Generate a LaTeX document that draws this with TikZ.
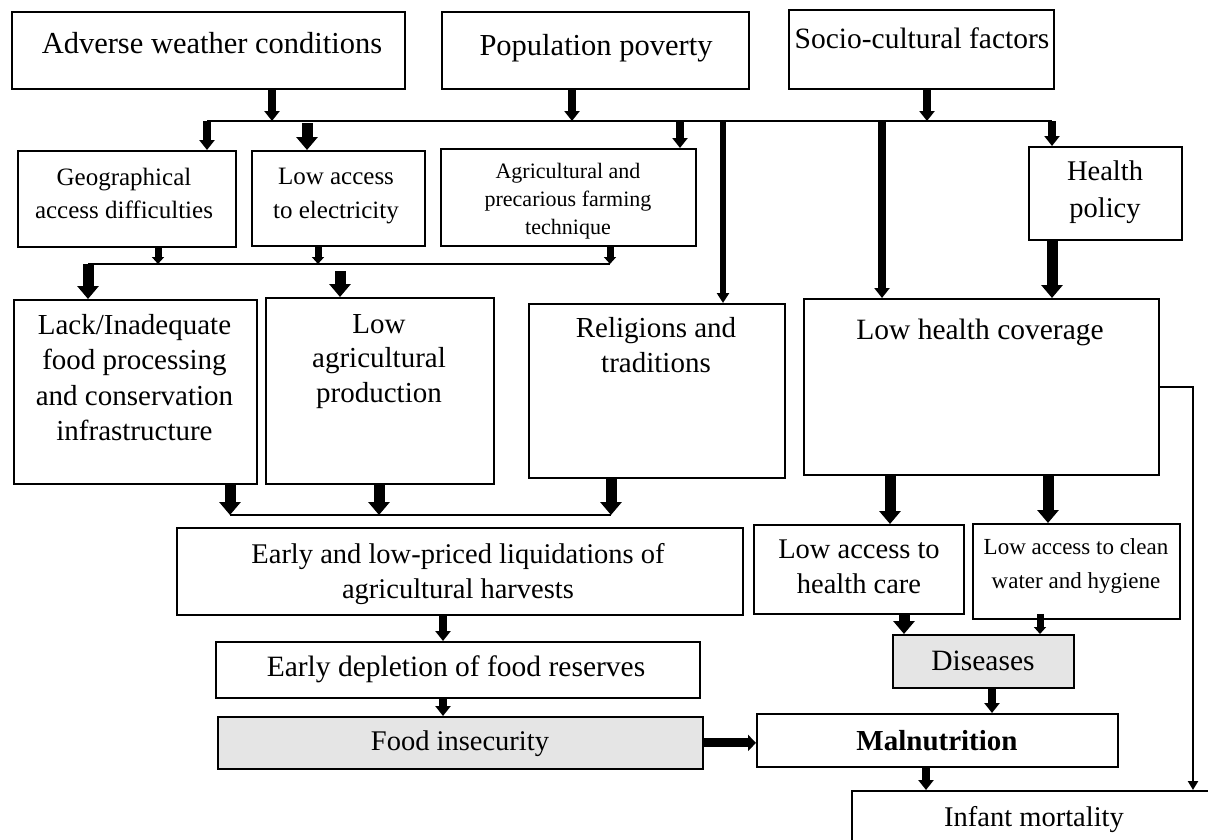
\documentclass[tikz,border=0pt]{standalone}
\usepackage{fontspec}
\setmainfont{Liberation Serif}
\usetikzlibrary{arrows.meta}
\definecolor{boxgray}{RGB}{229,229,229}
\newcommand\fsz[2]{\fontsize{#1}{#2}\selectfont}
\begin{document}
\begin{tikzpicture}[x=1pt,y=-1pt,
  bx/.style={draw,line width=1.8pt,inner sep=0pt,anchor=north west,fill=white},
  gbx/.style={bx,fill=boxgray},
  tx/.style={anchor=base,inner sep=0pt,align=center},
  thinline/.style={line width=2.5pt},
  thinarrow/.style={line width=2.5pt,-{Triangle[width=10pt,length=9pt]}},
  fatA/.style={line width=8pt,-{Triangle[width=15pt,length=10pt]}},
  fatB/.style={line width=11pt,-{Triangle[width=21pt,length=13pt]}},
  fatS/.style={line width=7pt,-{Triangle[width=12pt,length=7pt]}},
  medA/.style={line width=6pt,-{Triangle[width=12pt,length=10pt]}},
  fatH/.style={line width=9pt,-{Triangle[width=16pt,length=8pt]}}
]
\useasboundingbox (0,0) rectangle (1208,839);
\clip (0,0) rectangle (1208,839);

% ---------- boxes ----------
\node[bx,minimum width=393pt,minimum height=77pt] (adv) at (11,11) {};
\node[bx,minimum width=307pt,minimum height=77pt] (pop) at (441,11) {};
\node[bx,minimum width=265pt,minimum height=79pt] (soc) at (788,9) {};

\node[bx,minimum width=218pt,minimum height=96pt] (geo) at (17,150) {};
\node[bx,minimum width=173pt,minimum height=95pt] (elec) at (251,150) {};
\node[bx,minimum width=255pt,minimum height=97pt] (agri) at (440,148) {};
\node[bx,minimum width=153pt,minimum height=93pt] (hpol) at (1028,146) {};

\node[bx,minimum width=243pt,minimum height=184pt] (lack) at (13,299) {};
\node[bx,minimum width=228pt,minimum height=186pt] (lagr) at (265,297) {};
\node[bx,minimum width=256pt,minimum height=174pt] (rel) at (528,303) {};
\node[bx,minimum width=355pt,minimum height=176pt] (lhc) at (803,298) {};

\node[bx,minimum width=566pt,minimum height=87pt] (early) at (176,527) {};
\node[bx,minimum width=210pt,minimum height=89pt] (lahc) at (753,524) {};
\node[bx,minimum width=207pt,minimum height=95pt] (lacw) at (972,523) {};

\node[bx,minimum width=484pt,minimum height=56pt] (depl) at (215,641) {};
\node[gbx,minimum width=485pt,minimum height=52pt] (finsec) at (217,716) {};
\node[gbx,minimum width=181pt,minimum height=53pt] (dis) at (892,634) {};
\node[bx,minimum width=361pt,minimum height=53pt] (mal) at (756,713) {};
\node[bx,minimum width=380pt,minimum height=90pt] (inf) at (851,790) {};

% ---------- texts (anchor = baseline of the last line) ----------
\node[tx,font=\fsz{30.5}{36}] (adv-t) at (212,53) {Adverse weather conditions};
\node[tx,font=\fsz{30.5}{36}] (pop-t) at (596,55) {Population poverty};
\node[tx,font=\fsz{29.5}{36}] (soc-t) at (922,48) {Socio-cultural factors};

\node[tx,font=\fsz{25}{33}] (geo-t) at (124,218) {Geographical\\access difficulties};
\node[tx,font=\fsz{25}{34}] (elec-t) at (336,218) {Low access\\to electricity};
\node[tx,font=\fsz{22}{28}] (agri-t) at (568,234) {Agricultural and\\precarious farming\\technique};
\node[tx,font=\fsz{28.5}{37}] (hpol-t) at (1105,217) {Health\\policy};

\node[tx,font=\fsz{29}{35.5}] (lack-t) at (134.5,440.5) {Lack/Inadequate\\food processing\\and conservation\\infrastructure};
\node[tx,font=\fsz{29}{34.5}] (lagr-t) at (379,402) {Low\\agricultural\\production};
\node[tx,font=\fsz{29}{35}] (rel-t) at (656,372) {Religions and\\traditions};
\node[tx,font=\fsz{29.5}{35}] (lhc-t) at (980,339) {Low health coverage};

\node[tx,font=\fsz{28.5}{35}] (early-t) at (458,598) {Early and low-priced liquidations of\\agricultural harvests};
\node[tx,font=\fsz{28.5}{35}] (lahc-t) at (859,593) {Low access to\\health care};
\node[tx,font=\fsz{23}{34}] (lacw-t) at (1076,588) {Low access to clean\\water and hygiene};

\node[tx,font=\fsz{29.5}{35}] (depl-t) at (456,676) {Early depletion of food reserves};
\node[tx,font=\fsz{28.5}{35}] (finsec-t) at (460,750) {Food insecurity};
\node[tx,font=\fsz{29.5}{35}] (dis-t) at (983,670) {Diseases};
\node[tx,font=\fsz{29}{35}\bfseries] (mal-t) at (937,750) {Malnutrition};
\node[tx,font=\fsz{28.5}{35}] (inf-t) at (1034,826) {Infant mortality};

% ---------- junction coordinates ----------
\coordinate (b1w) at (207,121);
\coordinate (b1e) at (1052,121);
\coordinate (ja) at (272,121);
\coordinate (jp) at (572,121);
\coordinate (js) at (927,121);
\coordinate (j2) at (307,123);
\coordinate (j3) at (680,121);
\coordinate (j4) at (723,121);
\coordinate (j5) at (882,121);

\coordinate (b2w) at (88,264);
\coordinate (b2e) at (610,264);
\coordinate (k1) at (158,264);
\coordinate (k2) at (318,264);
\coordinate (k3) at (340,271);

\coordinate (b3w) at (230,515);
\coordinate (b3e) at (611,515);
\coordinate (k4) at (379,515);

\coordinate (xe) at (443,0);
\coordinate (xh1) at (890,0);
\coordinate (xh2) at (1048,0);
\coordinate (xd1) at (904,0);
\coordinate (xd2) at (1040,0);
\coordinate (xm) at (992,0);
\coordinate (xi) at (926,0);
\coordinate (r1) at (1193,387);

% ---------- top bus ----------
\draw[thinline] (b1w) -- (b1e);
\draw[fatA] (adv.south -| ja) -- (ja);
\draw[fatA] (pop.south -| jp) -- (jp);
\draw[fatA] (soc.south -| js) -- (js);
\draw[fatA] (b1w) -- (geo.north -| b1w);
\draw[fatB] (j2) -- (elec.north -| j2);
\draw[fatA] (j3) -- (agri.north -| j3);
\draw[medA] (j4) -- (rel.north -| j4);
\draw[fatA] (j5) -- (lhc.north -| j5);
\draw[fatA] (b1e) -- (hpol.north -| b1e);
\draw[fatB] (hpol.south -| b1e) -- (lhc.north -| b1e);

% ---------- second bus ----------
\draw[thinline] (b2w) -- (b2e);
\draw[fatS] (geo.south -| k1) -- (k1);
\draw[fatS] (elec.south -| k2) -- (k2);
\draw[fatS] (agri.south -| b2e) -- (b2e);
\draw[fatB] (b2w) -- (lack.north -| b2w);
\draw[fatB] (k3) -- (lagr.north -| k3);

% ---------- third bus ----------
\draw[thinline] (b3w) -- (b3e);
\draw[fatB] (lack.south -| b3w) -- (b3w);
\draw[fatB] (lagr.south -| k4) -- (k4);
\draw[fatB] (rel.south -| b3e) -- (b3e);

% ---------- lower part ----------
\draw[fatA] (early.south -| xe) -- (depl.north -| xe);
\draw[fatA] (depl.south -| xe) -- (finsec.north -| xe);
\draw[fatB] (lhc.south -| xh1) -- (lahc.north -| xh1);
\draw[fatB] (lhc.south -| xh2) -- (lacw.north -| xh2);
\draw[fatB] (lahc.south -| xd1) -- (dis.north -| xd1);
\draw[fatS] ([yshift=6pt]lacw.south -| xd2) -- (dis.north -| xd2);
\draw[fatA] (dis.south -| xm) -- (mal.north -| xm);
\draw[fatH] (finsec.east) -- (mal.west |- finsec.east);
\draw[fatA] (mal.south -| xi) -- (inf.north -| xi);
\draw[thinarrow] (lhc.east |- r1) -| (inf.north -| r1);
\end{tikzpicture}
\end{document}
